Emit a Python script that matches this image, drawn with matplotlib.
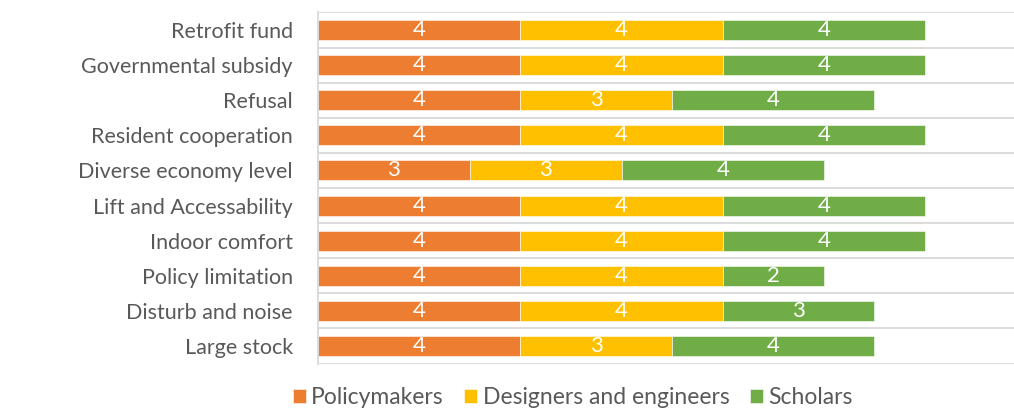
import matplotlib
matplotlib.use('Agg')
import matplotlib.pyplot as plt
import numpy as np

categories = ['Retrofit fund', 'Governmental subsidy', 'Refusal', 'Resident cooperation',
              'Diverse economy level', 'Lift and Accessability', 'Indoor comfort',
              'Policy limitation', 'Disturb and noise', 'Large stock']
policymakers = [4, 4, 4, 4, 3, 4, 4, 4, 4, 4]
designers = [4, 4, 3, 4, 3, 4, 4, 4, 4, 3]
scholars = [4, 4, 4, 4, 4, 4, 4, 2, 3, 4]
series_names = ['Policymakers', 'Designers and engineers', 'Scholars']
colors = ['#ED7D31', '#FFC000', '#70AD47']

plt.rcParams['font.family'] = ['Lato', 'DejaVu Sans']
grey = '#595959'

fig = plt.figure(figsize=(10.14, 4.12), dpi=100)
ax = fig.add_axes([0.3136, 0.1177, 0.70, 0.852])

y = np.arange(len(categories))
left = np.zeros(len(categories))
for name, vals, c in zip(series_names, [policymakers, designers, scholars], colors):
    vals = np.array(vals, dtype=float)
    ax.barh(y, vals, left=left, height=0.57, color=c, label=name,
            edgecolor='white', linewidth=0.4)
    for yi, l, v in zip(y, left, vals):
        ax.text(l + v / 2, yi, f'{int(v)}', ha='center', va='center',
                color='white', fontsize=16)
    left += vals

ax.set_ylim(len(categories) - 0.5, -0.5)
ax.set_xlim(0, 14.03)
ax.set_yticks(y)
ax.set_yticklabels(categories, color=grey, fontsize=15.5)
ax.tick_params(axis='y', length=0, pad=18)
ax.set_xticks([])
for b in np.arange(-0.5, len(categories), 1.0):
    ax.axhline(b, color='#d9d9d9', linewidth=1.3, zorder=0)
for s in ['top', 'right', 'bottom']:
    ax.spines[s].set_visible(False)
ax.spines['left'].set_color('#d9d9d9')
ax.spines['left'].set_linewidth(1.3)

leg = fig.legend(loc='lower center', bbox_to_anchor=(0.565, -0.04), ncol=3, frameon=False,
                 fontsize=16.5, handlelength=0.55, handleheight=0.55, handletextpad=0.25,
                 columnspacing=0.9)
for t in leg.get_texts():
    t.set_color(grey)

fig.savefig('out.png', dpi=100)
